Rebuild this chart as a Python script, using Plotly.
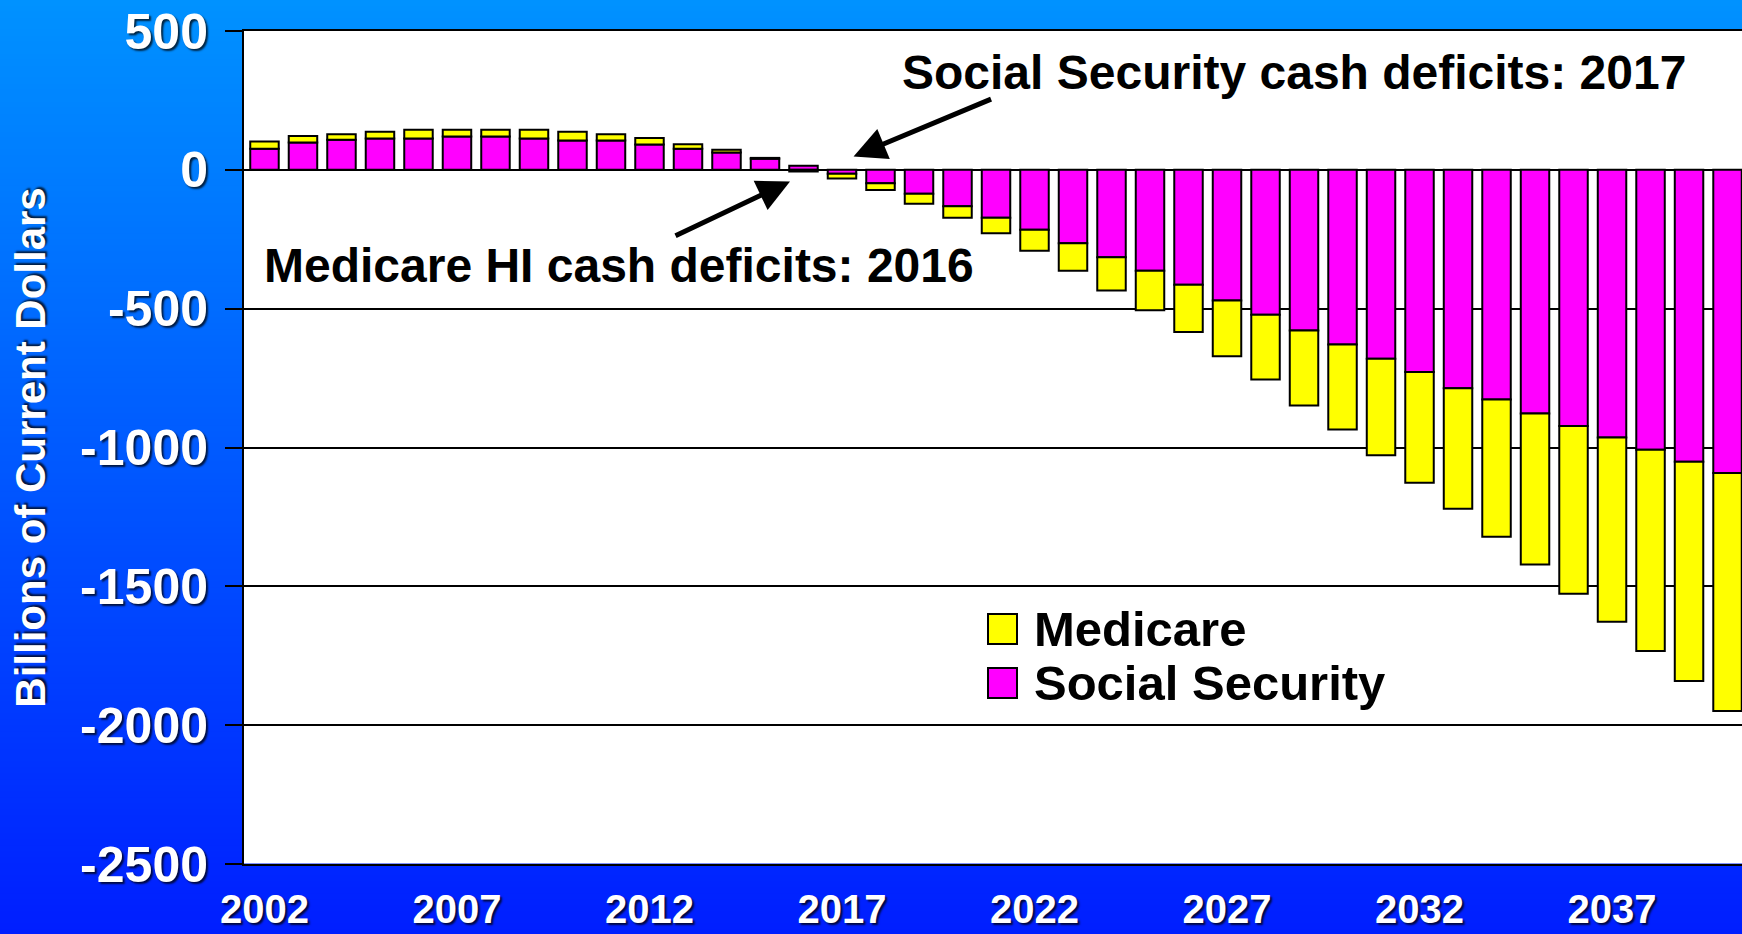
import plotly.graph_objects as go

# Annual cash flow, billions of current dollars
years = list(range(2002, 2041))
social_security = [76, 98, 108, 113, 113, 120, 120, 113, 106, 106, 91, 76, 62, 40,
                   15, -14, -48, -86, -131, -173, -216, -264, -315, -363, -414,
                   -471, -522, -579, -629, -680, -728, -787, -827, -878, -923,
                   -964, -1008, -1051, -1092]
medicare = [26, 24, 20, 24, 31, 24, 24, 31, 31, 22, 24, 16, 10, 3,
            -6, -17, -25, -36, -42, -55, -75, -99, -120, -143, -170,
            -200, -233, -270, -306, -348, -399, -434, -494, -543, -604,
            -664, -725, -790, -857]
year_ticks = [2002, 2007, 2012, 2017, 2022, 2027, 2032, 2037]
value_ticks = [500, 0, -500, -1000, -1500, -2000, -2500]

W, H = 1742, 934
ML, MR, MT, MB = 244, 0, 31, 70
PW, PH = W - ML - MR, H - MT - MB
FONT = "Liberation Sans, Arial, sans-serif"
SHADOW = "2px 2px 2px rgba(0,0,0,0.75)"


def xp(px):
    return (px - ML) / PW


def yp(py):
    return (H - MB - py) / PH


def blue_at(py):
    t = py / H
    g = round(146 + (30 - 146) * t)
    return f"rgb(0,{g},255)"


fig = go.Figure()
fig.add_trace(go.Bar(
    x=years, y=social_security, name="Social Security", width=0.74,
    marker=dict(color="#FF00FF", line=dict(color="black", width=2)),
))
fig.add_trace(go.Bar(
    x=years, y=medicare, name="Medicare", width=0.74,
    marker=dict(color="#FFFF00", line=dict(color="black", width=2)),
))

# vertical blue gradient in the margins around the white plotting area
shapes = []
step = 6
for y0 in range(0, H, step):
    y1 = min(y0 + step, H)
    col = blue_at((y0 + y1) / 2)
    if y1 <= MT or y0 >= H - MB:
        segs = [(0, W, y0, y1)]
    else:
        segs = [(0, ML, y0, y1)]
        if y0 < MT:
            segs.append((ML, W, y0, MT))
        if y1 > H - MB:
            segs.append((ML, W, H - MB, y1))
    for a, b, c, d in segs:
        shapes.append(dict(
            type="rect", xref="paper", yref="paper", layer="below",
            x0=xp(a), x1=xp(b), y0=yp(d), y1=yp(c) + 0.0005,
            fillcolor=col, line=dict(width=0),
        ))

# legend boxes
shapes.append(dict(type="rect", xref="paper", yref="paper",
                   x0=xp(988), x1=xp(1017), y0=yp(644), y1=yp(614),
                   fillcolor="#FFFF00", line=dict(color="black", width=2)))
shapes.append(dict(type="rect", xref="paper", yref="paper",
                   x0=xp(988), x1=xp(1017), y0=yp(698), y1=yp(668),
                   fillcolor="#FF00FF", line=dict(color="black", width=2)))

annotations = [
    dict(xref="paper", yref="paper", x=xp(1032), y=yp(629), text="<b>Medicare</b>",
         showarrow=False, xanchor="left", yanchor="middle",
         font=dict(family=FONT, size=49, color="black")),
    dict(xref="paper", yref="paper", x=xp(1032), y=yp(683), text="<b>Social Security</b>",
         showarrow=False, xanchor="left", yanchor="middle",
         font=dict(family=FONT, size=49, color="black")),
    dict(xref="paper", yref="paper", x=xp(1294), y=yp(72),
         text="<b>Social Security cash deficits: 2017</b>",
         showarrow=False, xanchor="center", yanchor="middle",
         font=dict(family=FONT, size=48, color="black")),
    dict(xref="paper", yref="paper", x=xp(619), y=yp(265),
         text="<b>Medicare HI cash deficits: 2016</b>",
         showarrow=False, xanchor="center", yanchor="middle",
         font=dict(family=FONT, size=48, color="black")),
    dict(xref="x", yref="y", x=2017.3, y=48, text="", showarrow=True,
         ax=139, ay=-58, arrowhead=2, arrowsize=1.3, arrowwidth=5,
         arrowcolor="black", standoff=0),
    dict(xref="x", yref="y", x=2015.65, y=-42, text="", showarrow=True,
         ax=-116, ay=55, arrowhead=2, arrowsize=1.3, arrowwidth=5,
         arrowcolor="black", standoff=0),
]

fig.update_layout(
    width=W, height=H,
    margin=dict(l=ML, r=MR, t=MT, b=MB, pad=0, autoexpand=False),
    barmode="relative",
    showlegend=False,
    paper_bgcolor=blue_at(H / 2),
    plot_bgcolor="white",
    shapes=shapes,
    annotations=annotations,
    xaxis=dict(
        range=[2001.468, 2040.376], automargin=False,
        tickmode="array", tickvals=year_ticks, ticktext=[str(v) for v in year_ticks],
        ticks="", showgrid=False, zeroline=False,
        showline=True, linecolor="black", linewidth=2, mirror=True,
        tickfont=dict(family=FONT, size=40, color="white", weight="bold", shadow=SHADOW),
        ticklabelstandoff=9,
    ),
    yaxis=dict(
        range=[-2500, 500], automargin=False,
        tickmode="array", tickvals=value_ticks, ticktext=[str(v) for v in value_ticks],
        ticks="outside", ticklen=17, tickwidth=2, tickcolor="black",
        showgrid=True, gridcolor="black", gridwidth=1.5,
        zeroline=True, zerolinecolor="black", zerolinewidth=1.5,
        showline=True, linecolor="black", linewidth=2,
        tickfont=dict(family=FONT, size=50, color="white", weight="bold", shadow=SHADOW),
        ticklabelstandoff=7,
        title=dict(text="Billions of Current Dollars", standoff=21,
                   font=dict(family=FONT, size=42, color="white", weight="bold",
                             shadow=SHADOW)),
    ),
)

fig.write_html("out.html")
